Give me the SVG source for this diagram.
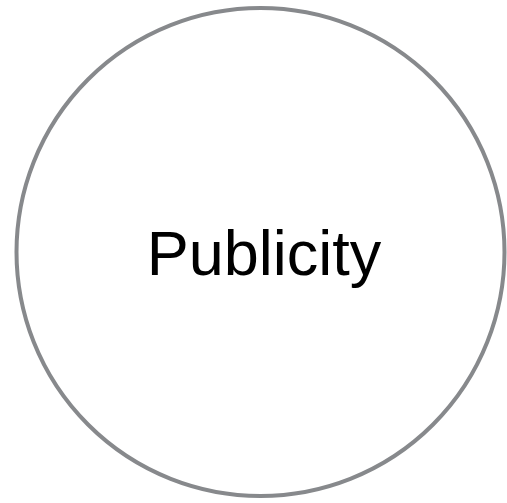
<svg xmlns="http://www.w3.org/2000/svg" width="507" height="503" viewBox="0 0 507 503">
<style>
.node circle{fill:#ffffff;stroke:#87898c;stroke-width:4}
.node text{font-family:"Liberation Sans",Arial,sans-serif;font-size:63px;fill:#000000;text-anchor:middle}
</style>
<rect width="507" height="503" fill="#ffffff"/>
<g id="connectors"></g>
<g id="publicity" class="node">
<circle cx="260.5" cy="252" r="244"/>
<text x="264" y="275">Publicity</text>
</g>
</svg>
